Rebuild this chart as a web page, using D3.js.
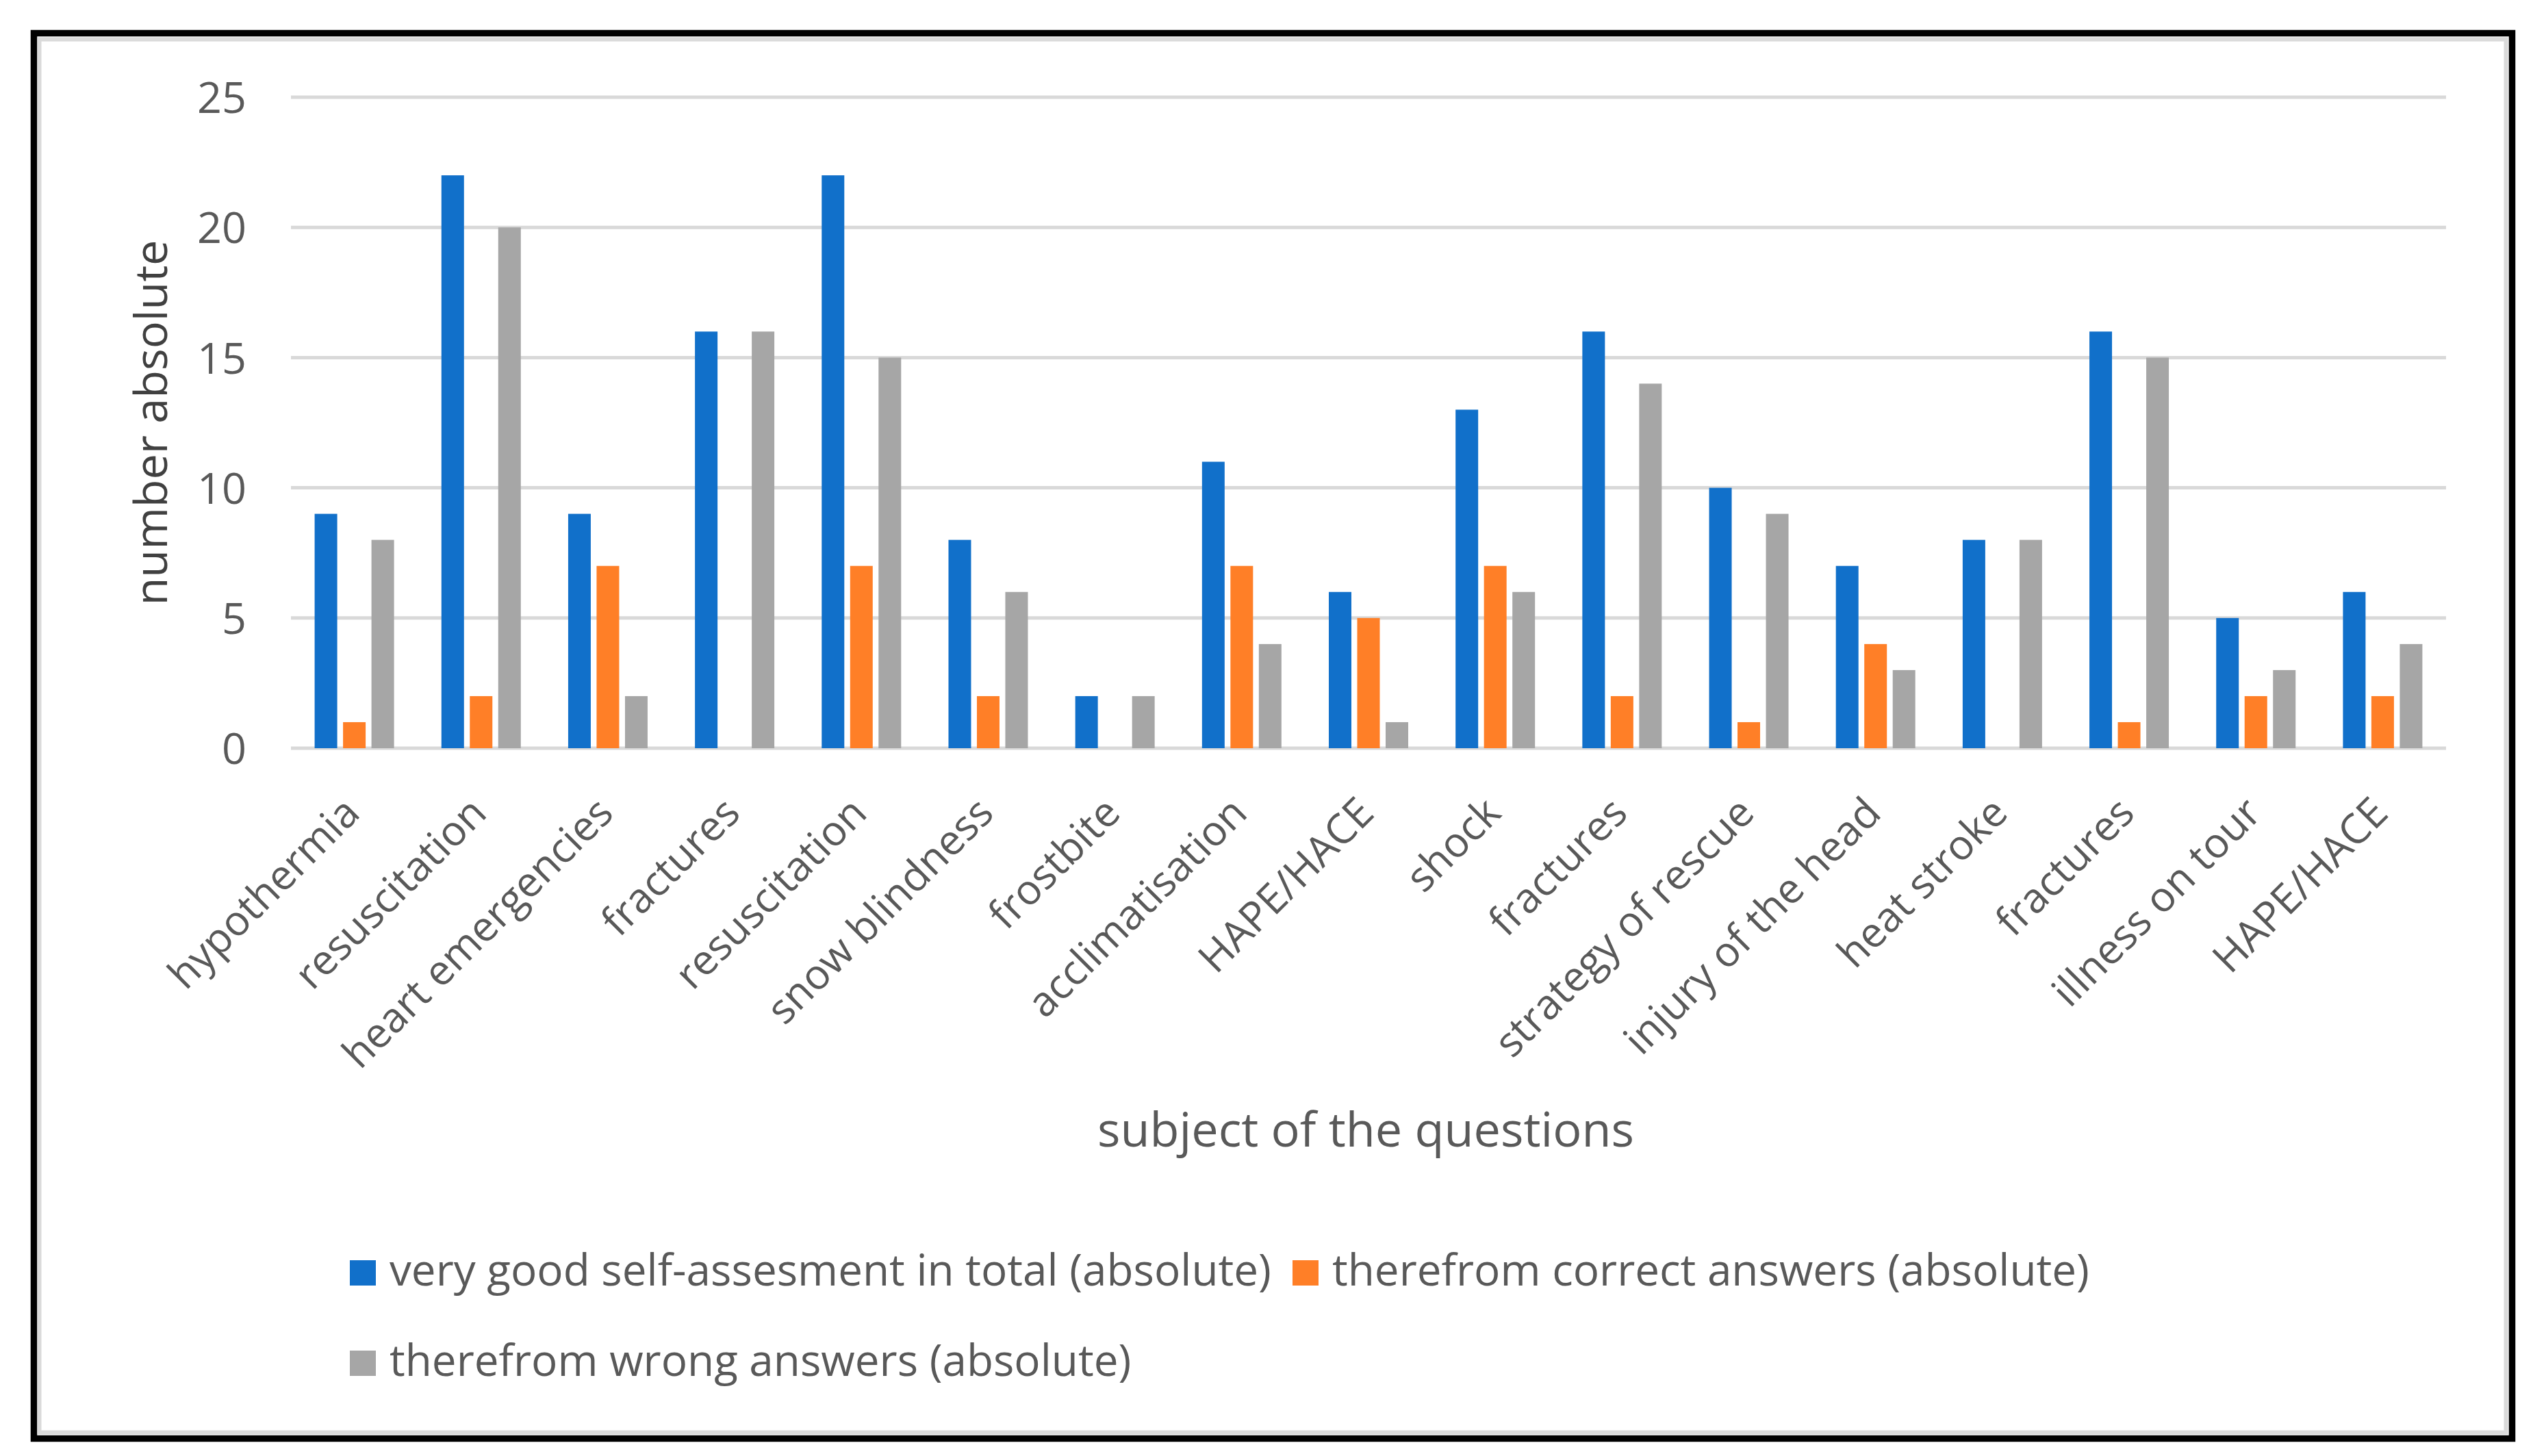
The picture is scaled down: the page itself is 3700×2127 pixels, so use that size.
<!DOCTYPE html>
<html>
<head>
<meta charset="utf-8">
<script src="https://cdn.jsdelivr.net/npm/d3@7"></script>
<style>
  html, body { margin: 0; padding: 0; background: #fff; }
  svg { display: block; }
</style>
</head>
<body>
<script>
const categories = ["hypothermia","resuscitation","heart emergencies","fractures","resuscitation","snow blindness","frostbite","acclimatisation","HAPE/HACE","shock","fractures","strategy of rescue","injury of the head","heat stroke","fractures","illness on tour","HAPE/HACE"];
const seriesNames = ["very good self-assesment in total (absolute)","therefrom correct answers (absolute)","therefrom wrong answers (absolute)"];
const totalValues   = [9,22,9,16,22,8,2,11,6,13,16,10,7,8,16,5,6];
const correctValues = [1,2,7,0,7,2,0,7,5,7,2,1,4,0,1,2,2];
const wrongValues   = [8,20,2,16,15,6,2,4,1,6,14,9,3,8,15,3,4];
const yTicks = [0,5,10,15,20,25];
const seriesColors = ["#1170CA","#FF7F27","#A6A6A6"];

const W = 3700, H = 2127;
const FONT = "'Open Sans', Lato, sans-serif";
const svg = d3.select("body").append("svg").attr("width", W).attr("height", H);

// fit a text element's font size so its length matches a target width
function fitSize(text, target, base) {
  const t = svg.append("text").attr("font-family", FONT).attr("font-size", base).text(text);
  const w = t.node().getComputedTextLength();
  t.remove();
  return base * target / w;
}

svg.append("rect").attr("width", W).attr("height", H).attr("fill", "#fff");
// frame: black outer, light gray inner
svg.append("rect").attr("x", 49.5).attr("y", 48.5).attr("width", 3620).attr("height", 2053)
  .attr("fill", "#fff").attr("stroke", "#000").attr("stroke-width", 9.5);
svg.append("rect").attr("x", 57.5).attr("y", 57.5).attr("width", 3603).attr("height", 2035)
  .attr("fill", "none").attr("stroke", "#dadada").attr("stroke-width", 6);

const plot = {left: 425, right: 3573, top: 142, bottom: 1093};

const x = d3.scaleBand().domain(d3.range(categories.length)).range([plot.left, plot.right]).paddingInner(0).paddingOuter(0);
const y = d3.scaleLinear().domain([0, 25]).range([plot.bottom, plot.top]);

const series = [totalValues, correctValues, wrongValues];
const barW = 33, barGap = 8.5;
const groupW = 3 * barW + 2 * barGap;

// gridlines
const g = svg.append("g");
g.selectAll("line.grid").data(yTicks).join("line")
  .attr("x1", plot.left).attr("x2", plot.right)
  .attr("y1", d => y(d)).attr("y2", d => y(d))
  .attr("stroke", "#d9d9d9").attr("stroke-width", 5);

// y tick labels
const tickSize = fitSize("25", 72, 60);
const yAxis = d3.axisLeft(y).tickValues(yTicks).tickSize(0).tickPadding(0);
const ya = svg.append("g").attr("transform", `translate(360,0)`).call(yAxis);
ya.select(".domain").remove();
ya.selectAll("text").attr("font-family", FONT).attr("font-size", tickSize).attr("fill", "#595959").attr("dy", "0.36em");

// bars
series.forEach((vals, si) => {
  g.selectAll(`rect.s${si}`).data(vals).join("rect")
    .attr("class", `s${si}`)
    .attr("x", (d, i) => x(i) + (x.bandwidth() - groupW) / 2 + si * (barW + barGap))
    .attr("width", barW)
    .attr("y", d => y(d))
    .attr("height", d => y(0) - y(d))
    .attr("fill", seriesColors[si]);
});

// category labels
const catSize = fitSize("hypothermia", 364, 60);
const xAxis = d3.axisBottom(x).tickFormat(i => categories[i]).tickSize(0).tickPadding(0);
const xa = svg.append("g").attr("transform", `translate(0,${plot.bottom})`).call(xAxis);
xa.select(".domain").remove();
xa.selectAll("text")
  .attr("font-family", FONT).attr("font-size", catSize).attr("fill", "#595959")
  .attr("text-anchor", "end")
  .attr("dy", null).attr("y", null)
  .attr("transform", "translate(11,98) rotate(-45)");

// axis titles
const yTitleSize = fitSize("number absolute", 534, 60);
svg.append("text").attr("transform", `translate(244,${(plot.top + plot.bottom) / 2}) rotate(-90)`)
  .attr("text-anchor", "middle").attr("font-family", FONT).attr("font-size", yTitleSize).attr("fill", "#404040")
  .text("number absolute");
const xTitleSize = fitSize("subject of the questions", 784, 60);
svg.append("text").attr("x", 1995).attr("y", 1675)
  .attr("text-anchor", "middle").attr("font-family", FONT).attr("font-size", xTitleSize).attr("fill", "#595959")
  .text("subject of the questions");

// legend
const legSize = fitSize(seriesNames[0], 1288, 60);
const legendItems = [
  {name: seriesNames[0], color: seriesColors[0], x: 511, y: 1878},
  {name: seriesNames[1], color: seriesColors[1], x: 1888, y: 1878},
  {name: seriesNames[2], color: seriesColors[2], x: 511, y: 2010}
];
const lg = svg.append("g").selectAll("g").data(legendItems).join("g")
  .attr("transform", d => `translate(${d.x},${d.y})`);
lg.append("rect").attr("x", 0).attr("y", -37).attr("width", 38).attr("height", 37).attr("fill", d => d.color);
lg.append("text").attr("x", 58).attr("y", 0)
  .attr("font-family", FONT).attr("font-size", legSize).attr("fill", "#595959")
  .text(d => d.name);
</script>
</body>
</html>
